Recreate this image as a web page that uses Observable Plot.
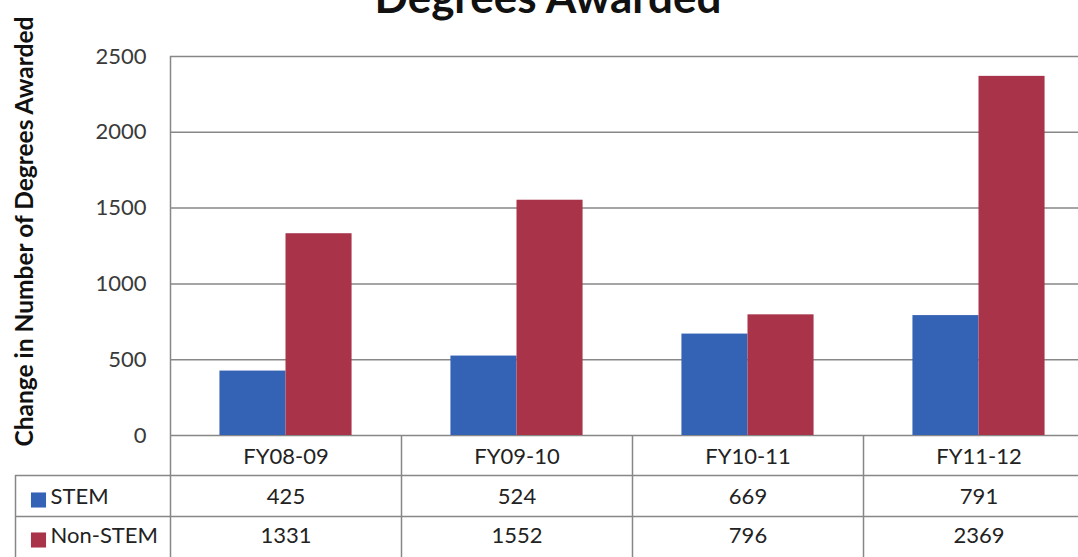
<!DOCTYPE html>
<html>
<head>
<meta charset="utf-8">
<script src="https://cdn.jsdelivr.net/npm/d3@7"></script>
<script src="https://cdn.jsdelivr.net/npm/@observablehq/plot@0.6"></script>
<style>
  html, body { margin: 0; padding: 0; background: #fff; }
  #wrap { position: relative; width: 1078px; height: 557px; overflow: hidden; background: #fff; }
  #title { position: absolute; left: 0; top: -24px; width: 1096px; text-align: center;
           font: bold 44px/40px Lato, sans-serif; color: #111; z-index: 2; }
  #chart { position: absolute; left: 0; top: 0; width: 1094px; }
  #chart svg { max-width: none !important; width: 1094px; height: 557px; }
</style>
</head>
<body>
<div id="wrap">
  <div id="title">Degrees Awarded</div>
  <div id="chart"></div>
</div>
<script>
const years = ["FY08-09", "FY09-10", "FY10-11", "FY11-12"];
const series = ["STEM", "Non-STEM"];
const stem = [425, 524, 669, 791];
const nonStem = [1331, 1552, 796, 2369];
const yTicks = [0, 500, 1000, 1500, 2000, 2500];
const yLabel = "Change in Number of Degrees Awarded";
const colors = ["#3462b4", "#a9344a"];

const values = [stem, nonStem];
const rows = years.flatMap((yr, i) => series.map((s, j) => ({year: yr, series: s, value: values[j][i]})));

const W = 1094, H = 557, ML = 170, MT = 56, MB = 122, MR = 0;
const frameH = H - MT - MB;
const bw = (W - ML - MR) / years.length;
const barW = bw * 0.286;
const grid = "#878787";
const ink = "#222";

const marks = [
  Plot.ruleY(yTicks, {stroke: grid, strokeWidth: 1.5}),
  Plot.barY(rows.filter(d => d.series === series[0]), {x: "year", y: "value", fill: colors[0], insetLeft: bw / 2 - barW, insetRight: bw / 2}),
  Plot.barY(rows.filter(d => d.series === series[1]), {x: "year", y: "value", fill: colors[1], insetLeft: bw / 2, insetRight: bw / 2 - barW}),
  // left axis line running down through the table
  Plot.ruleX([years[0]], {x: d => d, dx: -bw / 2, stroke: grid, strokeWidth: 1.5, insetBottom: -MB}),
  // table column dividers
  Plot.ruleX(years.slice(1), {x: d => d, dx: -bw / 2, stroke: grid, strokeWidth: 1.5, insetTop: frameH, insetBottom: -MB}),
  // left border of row-label cells
  Plot.ruleX([years[0]], {x: d => d, dx: -bw / 2 - 155, stroke: grid, strokeWidth: 1.5, insetTop: frameH + 40, insetBottom: -MB}),
  // table row lines
  Plot.ruleY([0], {dy: 40, insetLeft: -155, stroke: grid, strokeWidth: 1.5}),
  Plot.ruleY([0], {dy: 81, insetLeft: -155, stroke: grid, strokeWidth: 1.5}),
  // table header and values
  Plot.text(years, {x: d => d, text: d => d, frameAnchor: "bottom", dy: 28, fontSize: 22, fill: ink}),
  Plot.text(stem, {x: (d, i) => years[i], text: d => String(d), frameAnchor: "bottom", dy: 68, fontSize: 22, fill: ink}),
  Plot.text(nonStem, {x: (d, i) => years[i], text: d => String(d), frameAnchor: "bottom", dy: 107, fontSize: 22, fill: ink}),
  // row labels with colour keys
  ...series.map((s, i) => Plot.dot([s], {frameAnchor: "bottom-left", symbol: "square", r: 8.5, fill: colors[i], stroke: "none", dx: -132, dy: 64.5 + 40 * i})),
  ...series.map((s, i) => Plot.text([s], {text: d => d, frameAnchor: "bottom-left", textAnchor: "start", dx: -120, dy: 68 + 39 * i, fontSize: 22, fill: ink})),
  // y axis title
  Plot.text([yLabel], {text: d => d, frameAnchor: "left", textAnchor: "middle", rotate: -90, dx: -145, dy: -14.5, fontSize: 24.5, fontWeight: "bold", fill: "#111"})
];

const chart = Plot.plot({
  width: W,
  height: H,
  marginLeft: ML,
  marginTop: MT,
  marginBottom: MB,
  marginRight: MR,
  style: {fontFamily: "Lato, sans-serif", fontSize: "22px", color: "#3a3a3a", background: "transparent", overflow: "visible"},
  x: {type: "band", domain: years, padding: 0, axis: null},
  y: {domain: [0, 2500], ticks: 5, tickSize: 0, tickPadding: 24, label: null, tickFormat: d => String(d)},
  marks
});
document.getElementById("chart").appendChild(chart);
</script>
</body>
</html>
